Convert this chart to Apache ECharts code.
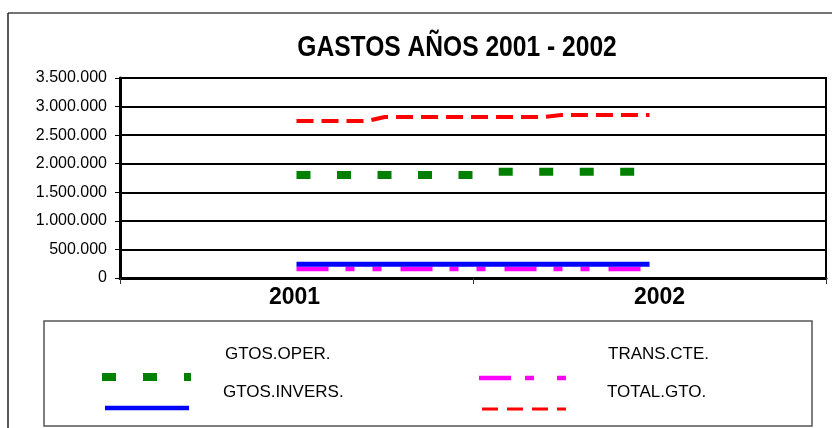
<!DOCTYPE html>
<html>
<head>
<meta charset="utf-8">
<title>GASTOS AÑOS 2001 - 2002</title>
<script src="https://cdn.jsdelivr.net/npm/echarts@6/dist/echarts.min.js"></script>
<style>
  html, body { margin: 0; padding: 0; background: #fff; }
  #main { width: 832px; height: 428px; }
</style>
</head>
<body>
<div id="main"></div>
<script>
"use strict";

// datos
var chartTitle = "GASTOS AÑOS 2001 - 2002";
var years = ["2001", "2002"];
var yTicks = [0, 500000, 1000000, 1500000, 2000000, 2500000, 3000000, 3500000];
var gtosOper = [1802500, 1802500, 1802500, 1802500, 1802500, 1802500, 1802500,
  1802500, 1802500, 1802500, 1802500, 1858000, 1858000, 1858000, 1858000,
  1858000, 1858000, 1858000, 1858000, 1858000, 1858000];
var gtosInvers = [240000, 240000, 240000, 240000, 240000, 240000, 240000,
  240000, 240000, 240000, 240000, 240000, 240000, 240000, 240000, 240000,
  240000, 240000, 240000, 240000, 240000];
var transCte = [157500, 157500, 157500, 157500, 157500, 157500, 157500,
  157500, 157500, 157500, 157500, 157500, 157500, 157500, 157500, 157500,
  157500, 157500, 157500, 157500, 157500];
var totalGto = [2747500, 2747500, 2747500, 2747500, 2747500, 2817500, 2817500,
  2817500, 2817500, 2817500, 2817500, 2817500, 2817500, 2817500, 2817500,
  2852500, 2852500, 2852500, 2852500, 2852500, 2852500];

// the points sit between the centre of 2001 (10) and 2002 (30)
function toPoints(arr) {
  return arr.map(function (v, i) {
    return [10 + i, v];
  });
}

function miles(v) {
  return String(v).replace(/\B(?=(\d{3})+(?!\d))/g, ".");
}

var sans = '"Liberation Sans", Arial, sans-serif';

var chartDom = document.getElementById("main");
var myChart = echarts.init(chartDom, null, { renderer: "canvas" });

var option = {
  animation: false,
  backgroundColor: "#fff",
  grid: {
    left: 120,
    right: 6,
    top: 78,
    bottom: 150,
    show: true,
    borderColor: "#000",
    borderWidth: 2,
  },
  xAxis: [
    {
      type: "category",
      data: years,
      boundaryGap: true,
      axisLine: { lineStyle: { color: "#000", width: 3 } },
      axisTick: { show: true, length: 6, lineStyle: { color: "#333", width: 1 } },
      axisLabel: {
        margin: 8,
        formatter: function (v) {
          return v === "2002" ? "{b|" + v + "}" : "{a|" + v + "}";
        },
        rich: {
          a: { fontFamily: sans, fontWeight: "bold", fontSize: 23, color: "#000", padding: [0, 4, 0, 0] },
          b: { fontFamily: sans, fontWeight: "bold", fontSize: 23, color: "#000", padding: [0, 0, 0, 20] },
        },
      },
      splitLine: { show: false },
    },
    {
      type: "value",
      min: 0,
      max: 40,
      show: false,
    },
  ],
  yAxis: {
    type: "value",
    min: yTicks[0],
    max: yTicks[yTicks.length - 1],
    interval: 500000,
    axisLine: { show: true, lineStyle: { color: "#000", width: 3 } },
    axisTick: { show: true, length: 5, lineStyle: { color: "#000", width: 1 } },
    axisLabel: {
      margin: 13,
      fontFamily: sans,
      fontSize: 16,
      color: "#000",
      formatter: miles,
    },
    splitLine: { show: true, lineStyle: { color: "#000", width: 2 } },
  },
  series: [
    {
      name: "GTOS.OPER.",
      type: "line",
      xAxisIndex: 1,
      data: toPoints(gtosOper),
      showSymbol: false,
      lineStyle: { color: "#008000", width: 8, type: [14, 26.5], cap: "butt" },
    },
    {
      name: "TRANS.CTE.",
      type: "line",
      xAxisIndex: 1,
      data: toPoints(transCte),
      showSymbol: false,
      lineStyle: { color: "#ff00ff", width: 4.5, type: [32, 17, 9, 18, 9, 19], cap: "butt" },
    },
    {
      name: "GTOS.INVERS.",
      type: "line",
      xAxisIndex: 1,
      data: toPoints(gtosInvers),
      showSymbol: false,
      lineStyle: { color: "#0000ff", width: 5, type: "solid", cap: "butt" },
    },
    {
      name: "TOTAL.GTO.",
      type: "line",
      xAxisIndex: 1,
      data: toPoints(totalGto),
      showSymbol: false,
      lineStyle: { color: "#ff0000", width: 4, type: [17, 8], cap: "butt" },
    },
  ],
  graphic: [
    // chart frame (only top and left show)
    { type: "line", shape: { x1: 8, y1: 13, x2: 832, y2: 13 }, style: { stroke: "#444", lineWidth: 1.5 } },
    { type: "line", shape: { x1: 8, y1: 13, x2: 8, y2: 428 }, style: { stroke: "#222", lineWidth: 1.5 } },
    // title, squeezed like the narrow font of the original
    {
      type: "text",
      x: 457,
      y: 48,
      scaleX: 0.82,
      style: {
        text: chartTitle,
        font: "bold 30px " + sans,
        fill: "#000",
        align: "center",
        verticalAlign: "middle",
      },
    },
    // legend box
    { type: "rect", shape: { x: 44, y: 321, width: 768, height: 105 }, style: { fill: "#fff", stroke: "#555", lineWidth: 1.5 } },
    { type: "line", shape: { x1: 102, y1: 377, x2: 191, y2: 377 }, style: { stroke: "#008000", lineWidth: 8, lineDash: [14, 27] } },
    { type: "line", shape: { x1: 105, y1: 408, x2: 189, y2: 408 }, style: { stroke: "#0000ff", lineWidth: 4.5 } },
    { type: "line", shape: { x1: 479, y1: 378, x2: 566, y2: 378 }, style: { stroke: "#ff00ff", lineWidth: 4.5, lineDash: [32, 14, 9, 23, 9, 50] } },
    { type: "line", shape: { x1: 482, y1: 409, x2: 566, y2: 409 }, style: { stroke: "#ff0000", lineWidth: 3, lineDash: [16, 9] } },
    { type: "text", left: 225, top: 346, style: { text: "GTOS.OPER.", font: "17px " + sans, fill: "#000" } },
    { type: "text", left: 223, top: 384, style: { text: "GTOS.INVERS.", font: "17px " + sans, fill: "#000" } },
    { type: "text", left: 608, top: 346, style: { text: "TRANS.CTE.", font: "17px " + sans, fill: "#000" } },
    { type: "text", left: 607, top: 384, style: { text: "TOTAL.GTO.", font: "17px " + sans, fill: "#000" } },
  ],
};

option && myChart.setOption(option);
</script>
</body>
</html>
